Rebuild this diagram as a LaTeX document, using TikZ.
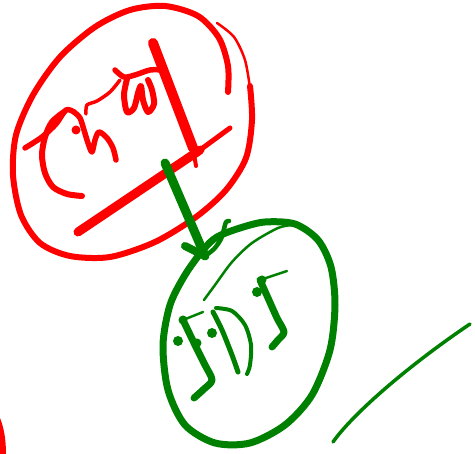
\documentclass[tikz,border=0pt]{standalone}
\usepackage{tikz}
\usetikzlibrary{calc}
\definecolor{inkred}{RGB}{255,0,0}
\definecolor{inkgreen}{RGB}{0,128,0}
\tikzset{
  redpen/.style={draw=inkred,line cap=round,line join=round},
  greenpen/.style={draw=inkgreen,line cap=round,line join=round}
}

\begin{document}
\begin{tikzpicture}[x=1pt,y=-1pt]
\useasboundingbox (0,0) rectangle (475,454);
% red loop with its scribble
\draw[redpen,line width=2.5pt] plot[smooth] coordinates {(217,23) (234,37) (245,60) (250,88)};
\draw[redpen,line width=6pt] plot[smooth] coordinates {(250,86) (252,120) (246,158) (226,190) (196,217) (155,242) (110,257) (70,256) (40,243) (21,215) (13,175) (16,135) (33,95) (60,57) (95,27) (130,10) (165,6) (198,16) (219,38) (228,66) (228,92)};
\draw[redpen,line width=5.5pt] plot[smooth] coordinates {(25,148) (42,137) (56,124) (66,110) (74,112)};
\draw[redpen,line width=6pt] plot[smooth] coordinates {(64,112) (52,122) (45,137) (42,155) (45,173) (53,187) (67,194) (82,196)};
\draw[redpen,line width=5.5pt] plot[smooth] coordinates {(74,112) (80,118) (84,130) (88,143) (92,152) (95,140) (99,132) (107,138) (113,148) (116,160)};
\fill[inkred] (76,130) circle (4.5pt);
\draw[redpen,line width=3.5pt] plot[smooth] coordinates {(86,114) (87,105) (97,101) (110,92) (120,80)};
\draw[redpen,line width=5.5pt] plot[smooth] coordinates {(115,70) (124,77) (135,75) (150,70) (162,70)};
\draw[redpen,line width=6pt] plot[smooth] coordinates {(127,79) (124,95) (127,112) (134,108) (138,93) (141,86) (143,100) (148,112) (154,104) (152,90) (148,80)};
\draw[redpen,line width=10pt] (153,43) -- (193,148);
\draw[redpen,line width=4pt] (193,148) -- (196,166);
\draw[redpen,line width=9pt] (78,232) -- (200,150);
\draw[redpen,line width=5pt] (200,150) -- (230,128);
\fill[inkred] (0,418) .. controls (4,428) and (6,440) .. (6,454) -- (0,454) -- cycle;
% green loop with its scribble
\draw[greenpen,line width=7pt] plot[smooth cycle] coordinates {(217,237) (240,228) (265,222) (295,224) (318,240) (331,267) (335,305) (330,350) (312,395) (285,425) (250,443) (215,443) (185,425) (168,390) (163,345) (170,305) (185,275) (203,250)};
\draw[greenpen,line width=2.5pt] plot[smooth] coordinates {(204,300) (215,285) (232,262) (252,243) (278,228) (292,225)};
\draw[greenpen,line width=2.5pt] (183,320) -- (203,312);
\draw[greenpen,line width=7pt] plot[smooth] coordinates {(183,320) (195,345) (205,365) (212,380) (204,389) (194,398)};
\fill[inkgreen] (178,341) circle (5pt) (197,343) circle (4.5pt) (183,320) circle (4.5pt);
\draw[greenpen,line width=5pt] plot[smooth] coordinates {(213,312) (222,330) (232,355) (238,372)};
\draw[greenpen,line width=4pt] plot[smooth] coordinates {(216,308) (232,311) (245,325) (251,345) (250,365) (247,374)};
\fill[inkgreen] (212,333) circle (5pt);
\draw[greenpen,line width=2.5pt] (260,280) -- (287,271);
\draw[greenpen,line width=7pt] plot[smooth] coordinates {(260,280) (268,298) (277,318) (284,332) (278,340) (272,347)};
\fill[inkgreen] (257,292) circle (5pt) (262,280) circle (4.5pt);
\draw[greenpen,line width=3.5pt] (333,442) .. controls (352,415) and (405,368) .. (470,324);
% arrow between the loops
\coordinate (tail) at (165,163);
\coordinate (tip) at (205,256);
\draw[greenpen,line width=9pt] (tail) -- (tip);
\draw[greenpen,line width=8pt] (185,246) -- (tip);
\draw[greenpen,line width=4.5pt] plot[smooth] coordinates {(tip) (214,249) (221,239) (224,229) (226,222) (229,221)};
\end{tikzpicture}
\end{document}
